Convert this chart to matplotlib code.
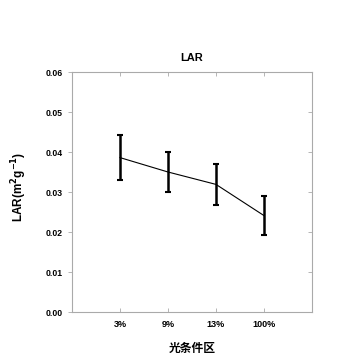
import matplotlib.pyplot as plt

# LAR under different light conditions
categories = ["3%", "9%", "13%", "100%"]
lar_mean = [0.0386, 0.0350, 0.0319, 0.0241]
lar_err = [0.0056, 0.0050, 0.0051, 0.0049]

plt.rcParams["font.family"] = ["Liberation Sans", "Noto Sans CJK SC", "DejaVu Sans"]

fig = plt.figure(figsize=(3.6, 3.6), dpi=100)
ax = fig.add_axes([0.2, 0.1333, 0.6667, 0.6667])

xpos = list(range(1, len(categories) + 1))
ax.errorbar(xpos, lar_mean, yerr=lar_err, color="black", linewidth=0.8,
            elinewidth=1.8, capsize=2, capthick=1.5)

ax.set_xlim(0, 5)
ax.set_ylim(0, 0.06)
ax.set_yticks([0.00, 0.01, 0.02, 0.03, 0.04, 0.05, 0.06])
ax.set_yticklabels([f"{v:.2f}" for v in ax.get_yticks()], fontsize=6.2, fontweight="bold")
ax.set_xticks(xpos)
ax.set_xticklabels(categories, fontsize=6.5, fontweight="bold")

for s in ax.spines.values():
    s.set_color("#aaaaaa")
    s.set_linewidth(0.8)
ax.tick_params(axis="both", colors="#aaaaaa", labelcolor="black", length=3, width=0.6)
ax.tick_params(axis="y", which="both", direction="out", left=True, right=False)
ax.tick_params(axis="x", direction="in", top=True, pad=6)

# inward ticks on the right side
ax_r = ax.twinx()
ax_r.set_ylim(ax.get_ylim())
ax_r.set_yticks(ax.get_yticks())
ax_r.tick_params(axis="y", direction="in", colors="#aaaaaa", length=3, width=0.6,
                 labelright=False)
ax_r.spines[:].set_visible(False)

ax.set_title("LAR", fontsize=8, fontweight="bold", pad=8)
ax.set_ylabel("LAR(m$^\\mathbf{2}$g$^\\mathbf{-1}$)", fontsize=8.5, fontweight="bold")
ax.yaxis.set_label_coords(-0.18, 0.52)
ax.set_xlabel("光条件区", fontsize=8.5, fontweight="bold", labelpad=9,
              family=["Noto Sans CJK SC", "DejaVu Sans"])

fig.savefig("out.png", dpi=100)
